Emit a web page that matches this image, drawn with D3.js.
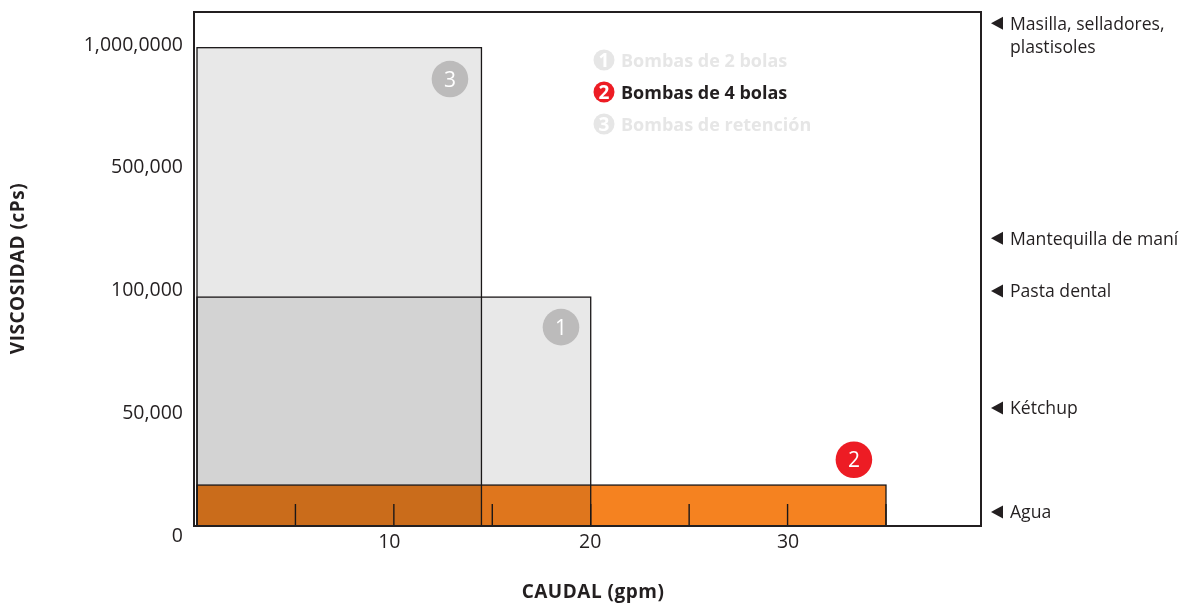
<!DOCTYPE html>
<html>
<head>
<meta charset="utf-8">
<script src="https://cdnjs.cloudflare.com/ajax/libs/d3/7.8.5/d3.min.js"></script>
<style>
html, body { margin: 0; padding: 0; background: #fff; }
svg { display: block; }
text { font-family: "Open Sans", sans-serif; fill: #231f20; }
</style>
</head>
<body>
<script>
var width = 1181, height = 603;

// values
var pumpNames = ["Bombas de 2 bolas", "Bombas de 4 bolas", "Bombas de retención"];
var pumpIds = [1, 2, 3];
var pumpFlow = [20, 35, 14.45];
var pumpViscosity = [96700, 20300, 985000];
var activePump = 2;

var yTicks = [0, 50000, 100000, 500000, 1000000];
var yTickLabels = ["0", "50,000", "100,000", "500,000", "1,000,0000"]; // extra zero is in the original
var xTicks = [10, 20, 30];
var xMinorTicks = [5, 10, 15, 20, 25, 30, 35];

var fluidNames = [["Masilla, selladores,", "plastisoles"], ["Mantequilla de maní"], ["Pasta dental"], ["Kétchup"], ["Agua"]];
var fluidViscosity = [1085000, 266000, 99200, 51600, 9400];

// badge spots on the bars
var badgeFlow = [18.49, 33.37, 12.85];
var badgeViscosity = [84500, 30600, 857000];

var frame = { left: 194, top: 12, right: 981, bottom: 526 };

var x = d3.scaleLinear().domain([0, 35]).range([197, 886]);
var y = d3.scaleLinear().domain(yTicks).range([535, 412, 289, 166.5, 44]);

var svg = d3.select("body").append("svg")
    .attr("width", width)
    .attr("height", height)
    .style("isolation", "isolate");

// bars, multiply gives the darker overlaps
var order = [2, 0, 1];
svg.append("g")
    .selectAll("rect")
    .data(order)
    .enter().append("rect")
    .attr("x", x(0))
    .attr("y", function (i) { return y(pumpViscosity[i]); })
    .attr("width", function (i) { return x(pumpFlow[i]) - x(0); })
    .attr("height", function (i) { return frame.bottom - y(pumpViscosity[i]); })
    .attr("fill", function (i) { return pumpIds[i] === activePump ? "#f58220" : "#e8e8e8"; })
    .style("mix-blend-mode", "multiply");

svg.append("g")
    .selectAll("rect")
    .data(order)
    .enter().append("rect")
    .attr("x", x(0))
    .attr("y", function (i) { return y(pumpViscosity[i]); })
    .attr("width", function (i) { return x(pumpFlow[i]) - x(0); })
    .attr("height", function (i) { return frame.bottom - y(pumpViscosity[i]); })
    .attr("fill", "none")
    .attr("stroke", "#1a1718")
    .attr("stroke-width", 1.3);

// short ticks inside the plot
svg.append("g")
    .selectAll("line")
    .data(xMinorTicks)
    .enter().append("line")
    .attr("x1", function (d) { return x(d); })
    .attr("x2", function (d) { return x(d); })
    .attr("y1", frame.bottom)
    .attr("y2", frame.bottom - 22)
    .attr("stroke", "#1a1718")
    .attr("stroke-width", 1.4);

svg.append("rect")
    .attr("x", frame.left)
    .attr("y", frame.top)
    .attr("width", frame.right - frame.left)
    .attr("height", frame.bottom - frame.top)
    .attr("fill", "none")
    .attr("stroke", "#231f20")
    .attr("stroke-width", 2);

// axes
var yAxis = d3.axisLeft(y)
    .tickValues(yTicks)
    .tickFormat(function (d, i) { return yTickLabels[i]; })
    .tickSize(0)
    .tickPadding(0);

var yG = svg.append("g")
    .attr("transform", "translate(183,0)")
    .call(yAxis);
yG.select(".domain").remove();
yG.selectAll("text")
    .style("font-size", "19.5px")
    .style("font-family", "Open Sans");

var xAxis = d3.axisBottom(x)
    .tickValues(xTicks)
    .tickSize(0)
    .tickPadding(0);

var xG = svg.append("g")
    .attr("transform", "translate(0,534)")
    .call(xAxis);
xG.select(".domain").remove();
xG.selectAll("text")
    .style("font-size", "19.5px")
    .style("font-family", "Open Sans")
    .attr("dy", "0.71em")
    .attr("dx", function (d) { return d === 10 ? -5 : d === 20 ? -1 : 0; });

svg.append("text")
    .attr("x", 593)
    .attr("y", 598)
    .attr("text-anchor", "middle")
    .style("font-size", "19px")
    .style("letter-spacing", "0.5px")
    .style("font-weight", 700)
    .text("CAUDAL (gpm)");

svg.append("text")
    .attr("transform", "translate(24,268.5) rotate(-90)")
    .attr("text-anchor", "middle")
    .style("font-size", "19px")
    .style("letter-spacing", "0.5px")
    .style("font-weight", 700)
    .text("VISCOSIDAD (cPs)");

var badges = svg.append("g")
    .selectAll("g")
    .data(pumpIds)
    .enter().append("g")
    .attr("transform", function (d, i) {
        return "translate(" + x(badgeFlow[i]) + "," + y(badgeViscosity[i]) + ")";
    });

badges.append("circle")
    .attr("r", 18.3)
    .attr("fill", function (d) { return d === activePump ? "#ed1c24" : "#bcbbbb"; });

badges.append("text")
    .attr("text-anchor", "middle")
    .attr("dy", "0.36em")
    .style("font-size", "21px")
    .style("fill", "#fff")
    .text(function (d) { return d; });

// legend
var legend = svg.append("g")
    .selectAll("g")
    .data(pumpIds)
    .enter().append("g")
    .attr("transform", function (d, i) { return "translate(604," + (60 + i * 32) + ")"; });

legend.append("circle")
    .attr("r", 10.5)
    .attr("fill", function (d) { return d === activePump ? "#ed1c24" : "#e6e6e6"; });

legend.append("text")
    .attr("text-anchor", "middle")
    .attr("dy", "0.36em")
    .style("font-size", "19px")
    .style("font-weight", 700)
    .style("fill", "#fff")
    .text(function (d) { return d; });

legend.append("text")
    .attr("x", 17)
    .attr("y", 1)
    .attr("dy", "0.36em")
    .style("font-size", "18px")
    .style("font-weight", 700)
    .style("fill", function (d) { return d === activePump ? "#231f20" : "#e6e6e6"; })
    .text(function (d, i) { return pumpNames[i]; });

// fluids on the right
var fluids = svg.append("g")
    .selectAll("g")
    .data(fluidNames)
    .enter().append("g")
    .attr("transform", function (d, i) { return "translate(0," + y(fluidViscosity[i]) + ")"; });

fluids.append("path")
    .attr("d", d3.line()([[991, 0], [1003, -6.5], [1003, 6.5]]) + "Z")
    .attr("fill", "#231f20");

fluids.selectAll("text")
    .data(function (d) { return d; })
    .enter().append("text")
    .attr("x", 1010)
    .attr("y", function (d, i) { return i * 23.5; })
    .attr("dy", "0.36em")
    .style("font-size", "17.6px")
    .text(function (d) { return d; });
</script>
</body>
</html>
